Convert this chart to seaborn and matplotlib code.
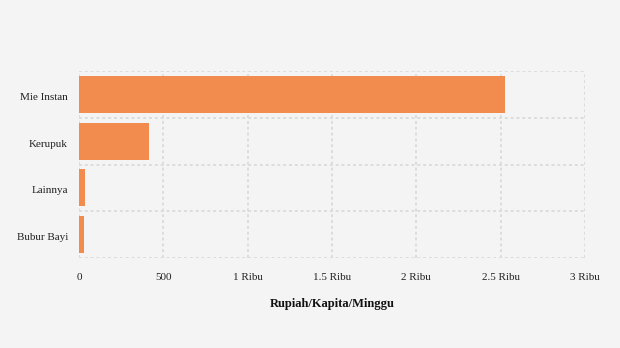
import matplotlib
matplotlib.use("Agg")
import matplotlib.pyplot as plt
import matplotlib.transforms as mtransforms
import seaborn as sns
import pandas as pd
from matplotlib.ticker import FixedLocator

categories = ["Mie Instan", "Kerupuk", "Lainnya", "Bubur Bayi"]
values = [2525, 413, 34, 28]
xticks = [0, 500, 1000, 1500, 2000, 2500, 3000]
xticklabels = ["0", "500", "1 Ribu", "1.5 Ribu", "2 Ribu", "2.5 Ribu", "3 Ribu"]
xlabel = "Rupiah/Kapita/Minggu"

sns.set_style("white")
plt.rcParams["font.family"] = ["Liberation Serif", "DejaVu Serif"]

df = pd.DataFrame({"cat": categories, "val": values})
bg = "#f4f4f4"
fig = plt.figure(figsize=(6.2, 3.48), dpi=100, facecolor=bg)
ax = fig.add_axes([79/620, 1-258/348, (585-79)/620, (258-71)/348])
ax.set_facecolor(bg)
sns.barplot(data=df, x="val", y="cat", color="#f28c4e", saturation=1, width=0.79,
            linewidth=0, edgecolor="none", ax=ax, zorder=3)
ax.set_xlim(0, 3000)
ax.set_ylim(3.5, -0.5)
ax.set_xticks(xticks)
ax.set_xticklabels(xticklabels, fontsize=8, color="#222222")
ax.tick_params(axis="x", length=0, pad=11)
ax.tick_params(axis="y", length=5, width=1.2, color="#e2e2e2", labelsize=8, labelcolor="#222222", pad=3)
off = mtransforms.ScaledTranslation(0, -2/100, fig.dpi_scale_trans)
for lab in ax.get_yticklabels():
    lab.set_transform(lab.get_transform() + off)
ax.yaxis.set_minor_locator(FixedLocator([-0.5, 0.5, 1.5, 2.5, 3.5]))
ax.tick_params(axis="y", which="minor", length=0)
gkw = dict(color="#dcdcdc", linestyle=(0, (1.5, 1.5)), linewidth=1.4, zorder=0)
ax.grid(axis="x", which="major", **gkw)
ax.grid(axis="y", which="minor", **gkw)
ax.grid(axis="y", which="major", visible=False)
for s in ax.spines.values():
    s.set_visible(False)
ax.set_ylabel("")
ax.set_xlabel(xlabel, fontsize=9, fontweight="bold", color="#111111", labelpad=11)
fig.savefig("out.png", dpi=100, facecolor=bg)
